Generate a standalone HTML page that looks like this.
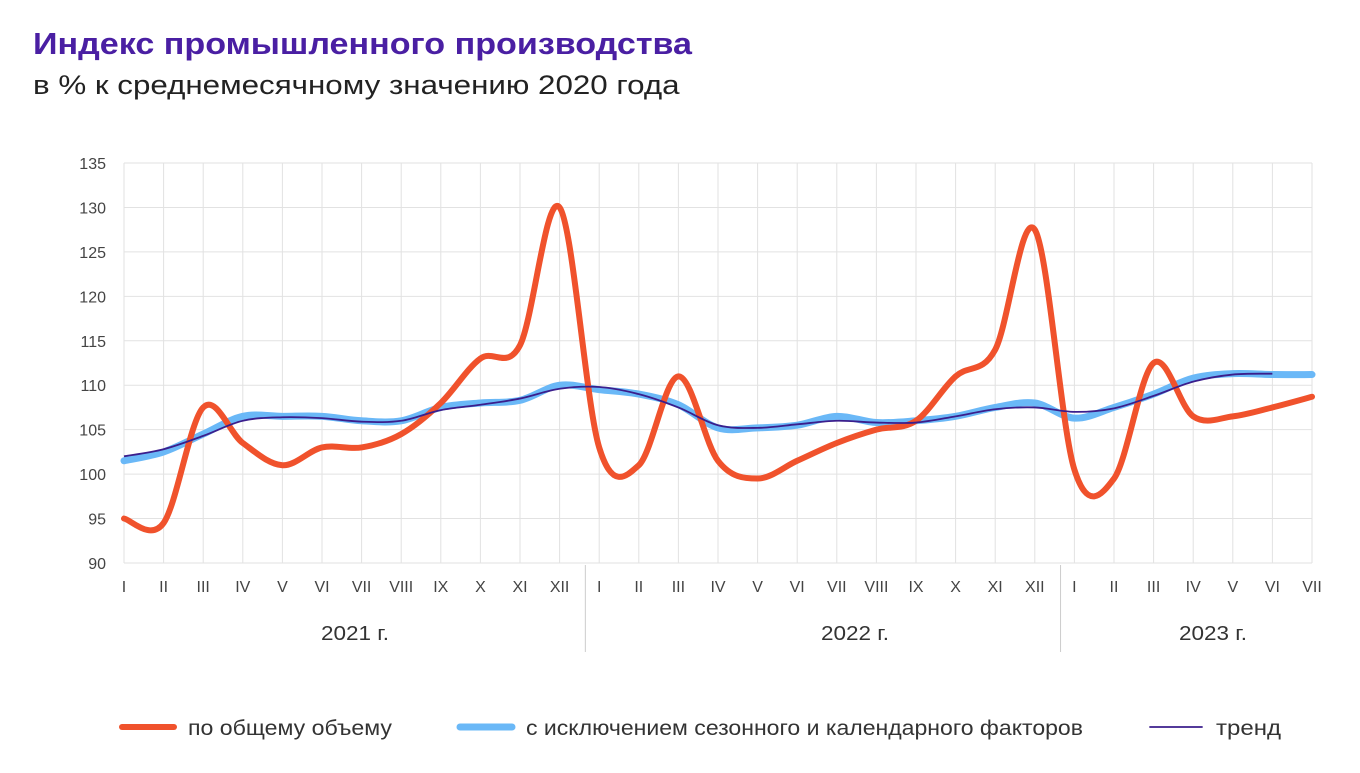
<!DOCTYPE html>
<html><head><meta charset="utf-8"><style>
body{margin:0;background:#fff;font-family:"Liberation Sans",sans-serif;}
#t{position:absolute;left:33px;top:26px;font-size:31px;font-weight:bold;color:#4a1fa3;transform:scaleX(1.1);transform-origin:0 0;white-space:nowrap;}
#s{position:absolute;left:33px;top:70px;font-size:27px;color:#222;transform:scaleX(1.16);transform-origin:0 0;white-space:nowrap;}
</style></head><body>
<div id="t">Индекс промышленного производства</div>
<div id="s">в % к среднемесячному значению 2020 года</div>
<svg id="c" width="1360" height="773" style="position:absolute;left:0;top:0"></svg>
<script>
const months=["I","II","III","IV","V","VI","VII","VIII","IX","X","XI","XII","I","II","III","IV","V","VI","VII","VIII","IX","X","XI","XII","I","II","III","IV","V","VI","VII"];
const years=["2021 г.","2022 г.","2023 г."];
const yTicks=[90,95,100,105,110,115,120,125,130,135];
const total=[95,94.5,107.5,103.5,101,103,103,104.5,108,113,114.5,130,103,101,111,101.5,99.5,101.5,103.5,105,106,111,114,127.5,100.5,99.5,112.5,106.5,106.5,107.5,108.7];
const seasonal=[101.5,102.5,104.5,106.5,106.5,106.5,106,106,107.5,108,108.3,110,109.5,109,107.8,105.2,105.2,105.5,106.5,105.8,106,106.5,107.5,108,106.3,107.5,109,110.8,111.3,111.2,111.2];
const trend=[102,102.8,104.3,106,106.4,106.3,105.9,106,107.2,107.8,108.5,109.6,109.8,109,107.5,105.5,105.2,105.6,106,105.8,105.8,106.5,107.3,107.5,107,107.4,108.8,110.4,111.2,111.3];
const svg=document.getElementById('c');const NS="http://www.w3.org/2000/svg";
const x=i=>124+i*39.6, y=v=>563-(v-90)*400/45;
function mk(t,a,p){const e=document.createElementNS(NS,t);for(const k in a)e.setAttribute(k,a[k]);(p||svg).appendChild(e);return e;}
yTicks.forEach(v=>{
 const l=mk('line',{x1:124,x2:1312,y1:y(v),y2:y(v),stroke:'#e2e2e2','stroke-width':1});
 
 
 const t=mk('text',{x:106,y:y(v)+6,'text-anchor':'end','font-size':16,fill:'#444'});t.textContent=v;
 
 
});
months.forEach((m,i)=>{
 const l=mk('line',{x1:x(i),x2:x(i),y1:163,y2:563,stroke:'#e2e2e2','stroke-width':1});
 
 
 const t=mk('text',{x:x(i),y:592,'text-anchor':'middle','font-size':16,fill:'#444'});t.textContent=m;
 
 
});
[11.65,23.65].forEach(p=>{const l=mk('line',{x1:x(p),x2:x(p),y1:565,y2:652,stroke:'#ccc','stroke-width':1});
 
 });
[355,855,1213].forEach((cx,i)=>{const t=mk('text',{x:cx-34,y:640,'font-size':20,fill:'#333',textLength:68,lengthAdjust:'spacingAndGlyphs'});t.textContent=years[i];
 
 });
function path(a){const p=a.map((v,i)=>[x(i),y(v)]);let d=`M${p[0][0]},${p[0][1]}`;
 for(let i=0;i<p.length-1;i++){const p0=p[i-1]||p[i],p1=p[i],p2=p[i+1],p3=p[i+2]||p2;
 d+=` C${p1[0]+(p2[0]-p0[0])/6},${p1[1]+(p2[1]-p0[1])/6} ${p2[0]-(p3[0]-p1[0])/6},${p2[1]-(p3[1]-p1[1])/6} ${p2[0]},${p2[1]}`;}return d;}
const s1=mk('path',{d:path(seasonal),fill:'none',stroke:'#6ab8f7','stroke-width':7,'stroke-linecap':'round'});


const s0=mk('path',{d:path(total),fill:'none',stroke:'#f0522c','stroke-width':6,'stroke-linecap':'round'});


const s2=mk('path',{d:path(trend),fill:'none',stroke:'#3b1e8c','stroke-width':1.8});


const leg=[[122,'#f0522c',6,'по общему объему',188,204],[460,'#6ab8f7',7,'с исключением сезонного и календарного факторов',526,557],[1150,'#3b1e8c',1.8,'тренд',1216,65]];
leg.forEach((L,i)=>{const l=mk('line',{x1:L[0],x2:L[0]+52,y1:727,y2:727,stroke:L[1],'stroke-width':L[2],'stroke-linecap':'round'});
 
 
 const t=mk('text',{x:L[4],y:735,'font-size':21,fill:'#333',textLength:L[5],lengthAdjust:'spacingAndGlyphs'});t.textContent=L[3];
 
 });
</script>
</body></html>
